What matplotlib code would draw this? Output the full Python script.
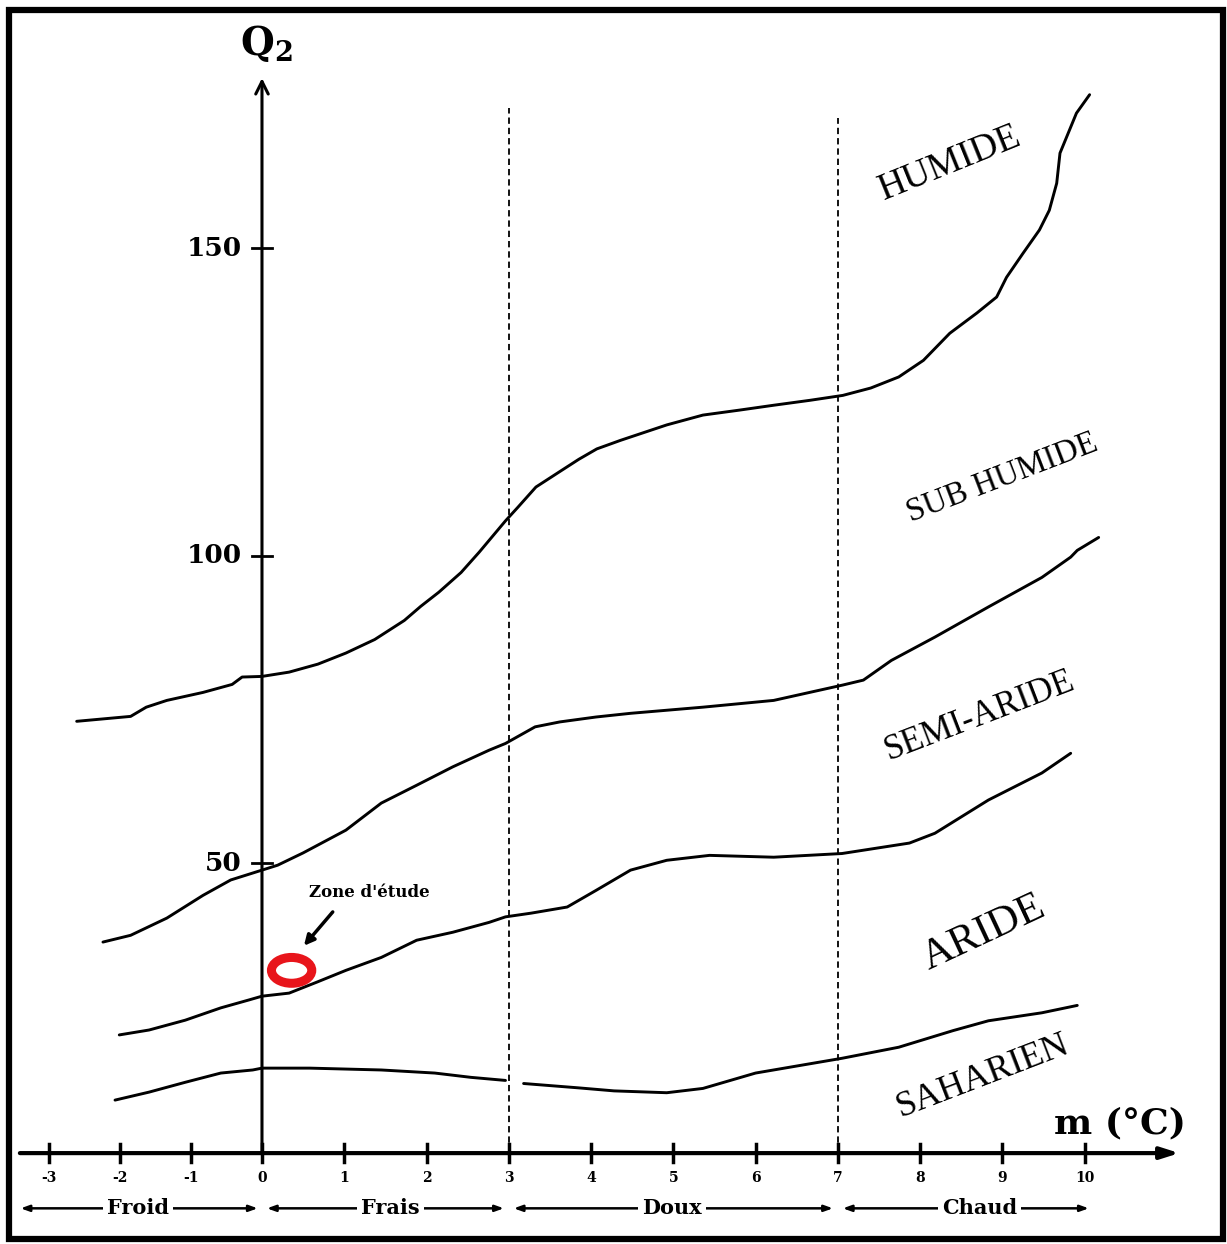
import numpy as np
import matplotlib.pyplot as plt
from matplotlib.patches import Ellipse, Rectangle

plt.rcParams['mathtext.fontset'] = 'dejavuserif'

# limites entre etages bioclimatiques (m en degC, Q2)
humide_x = [-2.61, -1.85, -1.63, -1.34, -0.83, -0.42, -0.28, 0, 0.33, 0.68, 1.02, 1.37, 1.73, 1.93,
            2.15, 2.42, 2.64, 2.96, 3.11, 3.33, 3.63, 3.85, 4.07, 4.36, 4.92, 5.36, 5.80, 6.22, 6.66,
            7.06, 7.40, 7.74, 8.04, 8.36, 8.69, 8.93, 9.05, 9.25, 9.45, 9.57, 9.66, 9.70, 9.78, 9.90, 10.06]
humide_y = [73.1, 73.9, 75.4, 76.5, 77.8, 79.1, 80.3, 80.4, 81.1, 82.4, 84.2, 86.4, 89.5, 91.8,
            94.1, 97.3, 100.6, 105.7, 107.9, 111.2, 113.8, 115.7, 117.4, 118.8, 121.3, 122.9, 123.7, 124.5, 125.3,
            126.1, 127.3, 129.1, 131.8, 136.2, 139.5, 142.1, 145.3, 149.2, 153.0, 156.2, 160.6, 165.5, 168.1, 172.0, 175.0]

subhumide_x = [-2.24, -1.85, -1.34, -0.83, -0.44, 0, 0.19, 0.50, 1.02, 1.45, 1.88, 2.32, 2.76, 2.96, 3.32,
               3.62, 4.06, 4.48, 5.36, 6.22, 7.06, 7.31, 7.65, 8.18, 8.83, 9.48, 9.83, 9.91, 10.17]
subhumide_y = [37.2, 38.3, 41.1, 44.8, 47.3, 48.9, 49.7, 51.7, 55.4, 59.8, 62.7, 65.7, 68.4, 69.5, 72.2,
               73.0, 73.8, 74.4, 75.4, 76.5, 79.0, 79.8, 83.0, 86.8, 91.7, 96.5, 99.8, 100.9, 103.0]

semiaride_x = [-2.01, -1.59, -1.08, -0.58, -0.18, 0, 0.33, 0.67, 1.02, 1.45, 1.88, 2.32, 2.76, 2.96, 3.27,
               3.71, 4.06, 4.48, 4.92, 5.44, 6.22, 7.05, 7.87, 8.18, 8.83, 9.14, 9.48, 9.83]
semiaride_y = [22.1, 22.9, 24.5, 26.5, 27.8, 28.4, 28.9, 30.7, 32.6, 34.7, 37.5, 38.8, 40.4, 41.3, 41.9,
               42.9, 45.6, 48.9, 50.5, 51.3, 51.0, 51.6, 53.3, 54.9, 60.3, 62.4, 64.7, 67.9]

aride_x1 = [-2.07, -1.59, -1.08, -0.58, -0.13, 0, 0.58, 1.45, 2.10, 2.54, 2.96]
aride_y1 = [11.5, 12.8, 14.4, 15.9, 16.4, 16.7, 16.7, 16.4, 15.9, 15.2, 14.7]
aride_x2 = [3.18, 3.84, 4.28, 4.92, 5.36, 6.00, 7.05, 7.74, 8.40, 8.83, 9.48, 9.91]
aride_y2 = [14.2, 13.5, 13.0, 12.7, 13.4, 15.9, 18.3, 20.1, 22.8, 24.4, 25.7, 26.9]

x_ticks = [-3, -2, -1, 0, 1, 2, 3, 4, 5, 6, 7, 8, 9, 10]
y_ticks = [50, 100, 150]
limites_m = [3, 7]

periodes = ['Froid', 'Frais', 'Doux', 'Chaud']
periodes_deb = [-3.4, 0.06, 3.06, 7.06]
periodes_fin = [-0.06, 2.94, 6.94, 10.05]
periodes_txt = [-1.75, 1.56, 4.98, 8.72]

etages = ['HUMIDE', 'SUB HUMIDE', 'SEMI-ARIDE', 'ARIDE', 'SAHARIEN']
etages_x = [8.36, 9.00, 8.72, 8.78, 8.76]
etages_y = [163.9, 112.6, 73.9, 38.7, 15.3]
etages_rot = [22, 21, 21, 25, 21]
etages_taille = [27, 23.5, 25, 31, 26]

zone_m, zone_q = 0.36, 32.6

fig = plt.figure(figsize=(12.27, 12.44), dpi=100)
ax = fig.add_axes([0, 0, 1, 1])
k = 0.863
ax.set_xscale('function', functions=(lambda x: np.where(x < 0, x * k, x),
                                     lambda u: np.where(u < 0, u / k, u)))
ax.set_xlim(-3.69, 11.73)
ax.set_ylim(-11.9, 190.4)
ax.axis('off')

y_axe = 2.88

# courbes
for xs, ys in [(humide_x, humide_y), (subhumide_x, subhumide_y), (semiaride_x, semiaride_y),
               (aride_x1, aride_y1), (aride_x2, aride_y2)]:
    ax.plot(xs, ys, color='black', lw=2.1, solid_capstyle='round', solid_joinstyle='round')

# limites verticales
ax.plot([limites_m[0]] * 2, [y_axe, 172.8], color='black', lw=1.3, ls=(0, (3.5, 2.2)))
ax.plot([limites_m[1]] * 2, [y_axe, 171.2], color='black', lw=1.3, ls=(0, (3.5, 2.2)))

# axes
ax.annotate('', xy=(0, 177.7), xytext=(0, y_axe),
            arrowprops=dict(arrowstyle='->,head_length=0.9,head_width=0.45', lw=2.2, color='black',
                            shrinkA=0, shrinkB=0))
ax.annotate('', xy=(11.15, y_axe), xytext=(-3.41, y_axe),
            arrowprops=dict(arrowstyle='-|>,head_length=1.1,head_width=0.35', lw=3, color='black',
                            shrinkA=0, shrinkB=0))

for v in x_ticks:
    ax.plot([v, v], [1.4, 4.4], color='black', lw=2.5)
    ax.text(v, -1.2, str(v), ha='center', va='center', fontsize=10, family='DejaVu Serif', weight='bold')
for v in y_ticks:
    ax.plot([-0.14, 0.12], [v, v], color='black', lw=2)
    ax.text(-0.28, v, str(v), ha='right', va='center', fontsize=19, family='DejaVu Serif', weight='bold')

ax.text(0.05, 183.3, r'$\mathbf{Q}_{\mathbf{2}}$', ha='center', va='center', fontsize=28)
ax.text(10.43, 7.75, 'm (°C)', ha='center', va='center', fontsize=26, family='DejaVu Serif', weight='bold')

# periodes thermiques
for nom, a, b, t in zip(periodes, periodes_deb, periodes_fin, periodes_txt):
    ax.annotate('', xy=(b, -6.1), xytext=(a, -6.1),
                arrowprops=dict(arrowstyle='<|-|>,head_length=0.5,head_width=0.18', lw=1.8, color='black',
                                shrinkA=0, shrinkB=0))
    ax.text(t, -6.1, nom, ha='center', va='center', fontsize=15, family='DejaVu Serif', weight='bold',
            zorder=5, bbox=dict(fc='white', ec='none', pad=3))

for nom, x, y, r, s in zip(etages, etages_x, etages_y, etages_rot, etages_taille):
    ax.text(x, y, nom, ha='center', va='center', rotation=r, fontsize=s, family='Liberation Serif',
            rotation_mode='anchor')

# zone d'etude
ax.add_patch(Ellipse((zone_m, zone_q), 0.49, 4.2, fill=False, ec='#e8151b', lw=6.5, zorder=4))
ax.text(1.31, 45.2, "Zone d'étude", ha='center', va='center', fontsize=12, family='DejaVu Serif', weight='bold')
ax.annotate('', xy=(0.51, 36.6), xytext=(0.86, 42.1),
            arrowprops=dict(arrowstyle='-|>,head_length=0.6,head_width=0.3', lw=2.5, color='black',
                            shrinkA=0, shrinkB=0))

fig.add_artist(Rectangle((9 / 1227, 5 / 1244), 1214 / 1227, 1229 / 1244, transform=fig.transFigure,
                         fill=False, ec='black', lw=4.5))

fig.savefig('out.png', dpi=100)
